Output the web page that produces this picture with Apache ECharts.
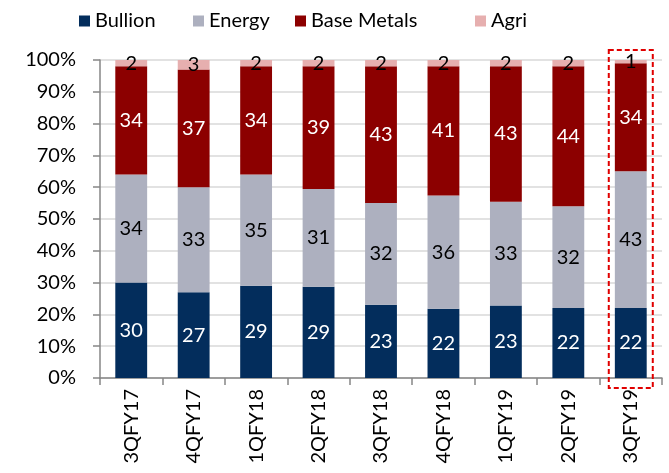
<!DOCTYPE html>
<html>
<head>
    <meta charset="utf-8">
    <title></title>
    <style type="text/css">
        body { margin: 0; background: #fff; }
    </style>
</head>
<body>
<div id="main" style="width: 669px;height:473px;"></div>

<script type="text/javascript" src="https://cdn.jsdelivr.net/npm/echarts@6/dist/echarts.min.js"></script>
<script type="text/javascript">
    var quarters = ['3QFY17', '4QFY17', '1QFY18', '2QFY18', '3QFY18', '4QFY18', '1QFY19', '2QFY19', '3QFY19'];
    var bullion = [30, 27, 29, 29, 23, 22, 23, 22, 22];
    var energy = [34, 33, 35, 31, 32, 36, 33, 32, 43];
    var baseMetals = [34, 37, 34, 39, 43, 41, 43, 44, 34];
    var agri = [2, 3, 2, 2, 2, 2, 2, 2, 1];
    var yTicks = ['0%', '10%', '20%', '30%', '40%', '50%', '60%', '70%', '80%', '90%', '100%'];

    var font = 'Lato';
    var totals = quarters.map(function (q, i) {
        return bullion[i] + energy[i] + baseMetals[i] + agri[i];
    });
    // scale each bar to 100%, label keeps the rounded figure
    function share(arr) {
        return arr.map(function (v, i) {
            return { value: v / totals[i] * 100, shown: v };
        });
    }

    var myChart = echarts.init(document.getElementById('main'));

    function mkSeries(name, arr, color, labelColor) {
        return {
            name: name,
            type: 'bar',
            stack: 'all',
            barWidth: '51%',
            itemStyle: { color: color },
            label: {
                show: true,
                position: 'inside',
                color: labelColor,
                fontFamily: font,
                fontSize: 20,
                formatter: function (p) { return p.data.shown; }
            },
            data: share(arr)
        };
    }

    function mkLegend(name, left) {
        return {
            data: [name],
            left: left,
            top: 6,
            itemWidth: 11,
            itemHeight: 11,
            icon: 'rect',
            textStyle: { fontFamily: font, fontSize: 20, color: '#000' }
        };
    }

    myChart.setOption({
        animation: false,
        legend: [
            mkLegend('Bullion', 74),
            mkLegend('Energy', 188),
            mkLegend('Base Metals', 290),
            mkLegend('Agri', 470)
        ],
        grid: { left: 100, right: 7, top: 60, bottom: 95, containLabel: false },
        xAxis: {
            type: 'category',
            data: quarters,
            axisLine: { lineStyle: { color: '#868686', width: 1.5 } },
            axisTick: { show: true, length: 7, lineStyle: { color: '#868686', width: 1.5 } },
            axisLabel: {
                rotate: 90,
                margin: 11,
                color: '#000',
                fontFamily: font,
                fontSize: 20
            }
        },
        yAxis: {
            type: 'value',
            min: 0,
            max: 100,
            interval: 10,
            axisLine: { show: true, lineStyle: { color: '#868686', width: 1.5 } },
            axisTick: { show: true, length: 7, lineStyle: { color: '#868686', width: 1.5 } },
            splitLine: { lineStyle: { color: '#d9d9d9', width: 1.5 } },
            axisLabel: {
                margin: 24,
                color: '#000',
                fontFamily: font,
                fontSize: 20,
                formatter: function (v) { return yTicks[Math.round(v / 10)]; }
            }
        },
        series: [
            mkSeries('Bullion', bullion, '#032d5c', '#fff'),
            mkSeries('Energy', energy, '#adb0bf', '#000'),
            mkSeries('Base Metals', baseMetals, '#8c0000', '#fff'),
            mkSeries('Agri', agri, '#e6afaf', '#000')
        ]
    });

    // dashed highlight round the latest quarter
    var last = quarters[quarters.length - 1];
    var cx = myChart.convertToPixel({ xAxisIndex: 0 }, last);
    var yTop = myChart.convertToPixel({ yAxisIndex: 0 }, 100);
    var yBot = myChart.convertToPixel({ yAxisIndex: 0 }, 0);
    myChart.setOption({
        graphic: [{
            type: 'rect',
            shape: { x: cx - 22, y: yTop - 10, width: 44, height: yBot - yTop + 20 },
            style: { fill: 'none', stroke: '#e00000', lineWidth: 2, lineDash: [5, 3] },
            z: 10
        }]
    });
</script>

</body>
</html>
